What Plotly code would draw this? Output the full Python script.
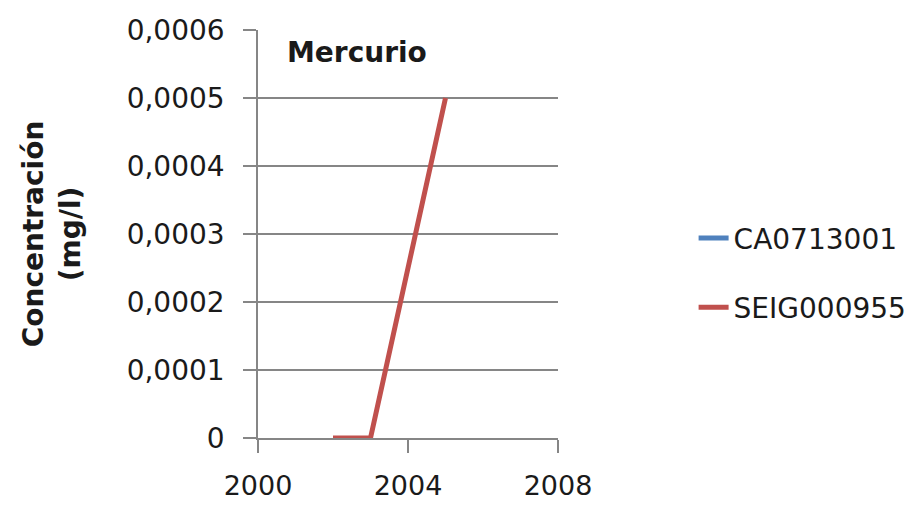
import plotly.graph_objects as go

# Data
years_ca = [2002]
vals_ca = [None]
years_seig = [2002, 2003, 2005]
vals_seig = [0.0, 0.0, 0.0005]

y_tickvals = [0, 0.0001, 0.0002, 0.0003, 0.0004, 0.0005, 0.0006]
y_ticktext = ["0", "0,0001", "0,0002", "0,0003", "0,0004", "0,0005", "0,0006"]
x_tickvals = [2000, 2004, 2008]
x_ticktext = ["2000", "2004", "2008"]

FONT = "DejaVu Sans"
FS = 28
TXT = "#1a1a1a"

fig = go.Figure()
fig.add_trace(go.Scatter(x=years_ca, y=vals_ca, mode="lines", name="CA0713001",
                         line=dict(color="#4F81BD", width=5), legendgroup="a"))
fig.add_trace(go.Scatter(x=years_seig, y=vals_seig, mode="lines", name="SEIG000955",
                         line=dict(color="#C0504D", width=5), legendgroup="b"))

fig.update_layout(
    width=906, height=498,
    margin=dict(l=250, r=356, t=22, b=68, autoexpand=False),
    paper_bgcolor="white", plot_bgcolor="white",
    font=dict(family=FONT, size=FS, color=TXT),
    showlegend=True,
    legend=dict(x=1.452, xanchor="left", y=0.405, yanchor="middle",
                font=dict(family=FONT, size=FS, color=TXT),
                tracegroupgap=30, bgcolor="rgba(0,0,0,0)"),
    xaxis=dict(range=[2000, 2008], tickvals=x_tickvals, ticktext=x_ticktext,
               showgrid=False, zeroline=False, showline=True, linecolor="#868686",
               linewidth=1.5, ticks="outside", ticklen=13, tickcolor="#868686",
               tickwidth=1.5, ticklabelstandoff=10, automargin=False,
               tickfont=dict(family=FONT, size=27)),
    yaxis=dict(range=[0, 0.0006], tickvals=y_tickvals, ticktext=y_ticktext,
               showgrid=True, gridcolor="#868686", gridwidth=1.5, zeroline=False,
               showline=True, linecolor="#868686", linewidth=1.5,
               ticks="outside", ticklen=13, tickcolor="#868686", tickwidth=1.5,
               ticklabelstandoff=13, automargin=False,
               tickfont=dict(family=FONT, size=FS),
               title=dict(text="<b>Concentración<br>(mg/l)</b>",
                          font=dict(family=FONT, size=FS), standoff=38)),
    annotations=[dict(text="<b>Mercurio</b>", x=0.09, y=0.944, xref="paper", yref="paper",
                      xanchor="left", yanchor="middle", showarrow=False,
                      font=dict(family=FONT, size=FS, color=TXT))],
)

fig.write_html("out.html")
